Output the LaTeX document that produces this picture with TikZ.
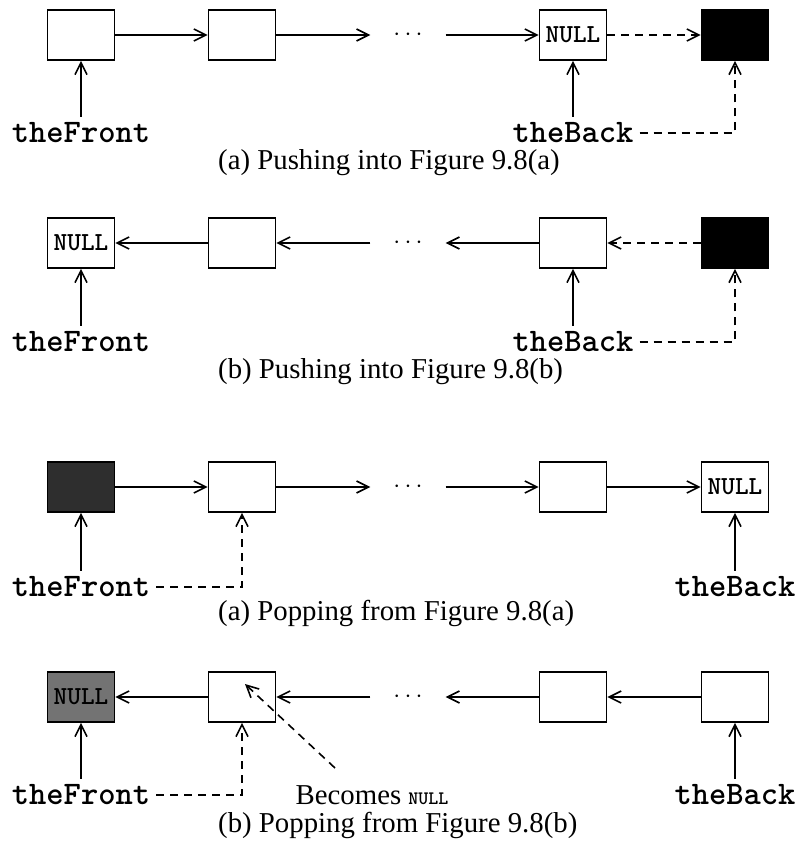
\documentclass[tikz,border=0pt]{standalone}
\usepackage{fontspec}
\setmainfont{Liberation Serif}
\usetikzlibrary{arrows.meta}
\begin{document}
\begin{tikzpicture}[x=1pt,y=-1pt,
  cell/.style={draw, line width=1.8pt, minimum width=67pt, minimum height=50pt,
    inner sep=0pt, fill=white, font=\fontsize{26}{30}\ttfamily\bfseries},
  link/.style={line width=1.6pt, -{Straight Barb[length=12pt,width=12pt]}},
  dlink/.style={link, dash pattern=on 8pt off 6pt},
  lbl/.style={font=\fontsize{32.9}{36}\ttfamily\bfseries, inner xsep=6pt, inner ysep=6pt},
  capt/.style={font=\fontsize{28.8}{32}\selectfont, anchor=west, inner sep=0pt},
  ellip/.style={minimum width=75pt, inner sep=0pt, font=\fontsize{36}{38}\selectfont}]
\useasboundingbox (0,0) rectangle (800,845);

% ---- (a) pushing, singly linked towards the back
\node[cell] (a1) at (81,35) {};
\node[cell] (a2) at (242,35) {};
\node[ellip] (ad) at (408,35) {$\cdots$};
\node[cell] (a3) at (573,35) {NULL};
\node[cell, fill=black] (a4) at (735,35) {};
\draw[link] (a1) -- (a2);
\draw[link] (a2) -- (ad);
\draw[link] (ad) -- (a3);
\draw[dlink] (a3) -- (a4);
\node[lbl] (af) at (81,133) {theFront};
\node[lbl] (ab) at (573,133) {theBack};
\draw[link] (af) -- (a1);
\draw[link] (ab) -- (a3);
\draw[dlink] (ab.east) -| (a4.south);
\node[capt] (acap) at (218,163) {(a) Pushing into Figure 9.8(a)};

% ---- (b) pushing, links pointing towards the front
\node[cell] (b1) at (81,243) {NULL};
\node[cell] (b2) at (242,243) {};
\node[ellip] (bd) at (408,243) {$\cdots$};
\node[cell] (b3) at (573,243) {};
\node[cell, fill=black] (b4) at (735,243) {};
\draw[link] (b2) -- (b1);
\draw[link] (bd) -- (b2);
\draw[link] (b3) -- (bd);
\draw[dlink] (b4) -- (b3);
\node[lbl] (bf) at (81,342) {theFront};
\node[lbl] (bb) at (573,342) {theBack};
\draw[link] (bf) -- (b1);
\draw[link] (bb) -- (b3);
\draw[dlink] (bb.east) -| (b4.south);
\node[capt] (bcap) at (218,372) {(b) Pushing into Figure 9.8(b)};

% ---- (a) popping, links pointing towards the back
\node[cell, fill=black!82] (c1) at (81,487) {};
\node[cell] (c2) at (242,487) {};
\node[ellip] (cd) at (408,487) {$\cdots$};
\node[cell] (c3) at (573,487) {};
\node[cell] (c4) at (735,487) {NULL};
\draw[link] (c1) -- (c2);
\draw[link] (c2) -- (cd);
\draw[link] (cd) -- (c3);
\draw[link] (c3) -- (c4);
\node[lbl] (cf) at (81,587) {theFront};
\node[lbl] (cb) at (735,587) {theBack};
\draw[link] (cf) -- (c1);
\draw[link] (cb) -- (c4);
\draw[dlink] (cf.east) -| (c2.south);
\node[capt] (ccap) at (218,613) {(a) Popping from Figure 9.8(a)};

% ---- (b) popping, links pointing towards the front
\node[cell, fill=black!55] (d1) at (81,697) {NULL};
\node[cell] (d2) at (242,697) {};
\node[ellip] (dd) at (408,697) {$\cdots$};
\node[cell] (d3) at (573,697) {};
\node[cell] (d4) at (735,697) {};
\draw[link] (d2) -- (d1);
\draw[link] (dd) -- (d2);
\draw[link] (d3) -- (dd);
\draw[link] (d4) -- (d3);
\node[lbl] (df) at (81,795) {theFront};
\node[lbl] (db) at (735,795) {theBack};
\draw[link] (df) -- (d1);
\draw[link] (db) -- (d4);
\draw[dlink] (df.east) -| (d2.south);
\node[font=\fontsize{28.8}{32}\selectfont, inner sep=0pt] (bn) at (372,795)
  {Becomes {\fontsize{19}{22}\ttfamily\bfseries NULL}};
\coordinate (bnFrom) at (335,768);
\coordinate (bnTip) at (245,684);
\draw[dlink] (bnFrom) -- (bnTip);
\node[capt] (dcap) at (218,825) {(b) Popping from Figure 9.8(b)};
\end{tikzpicture}
\end{document}
